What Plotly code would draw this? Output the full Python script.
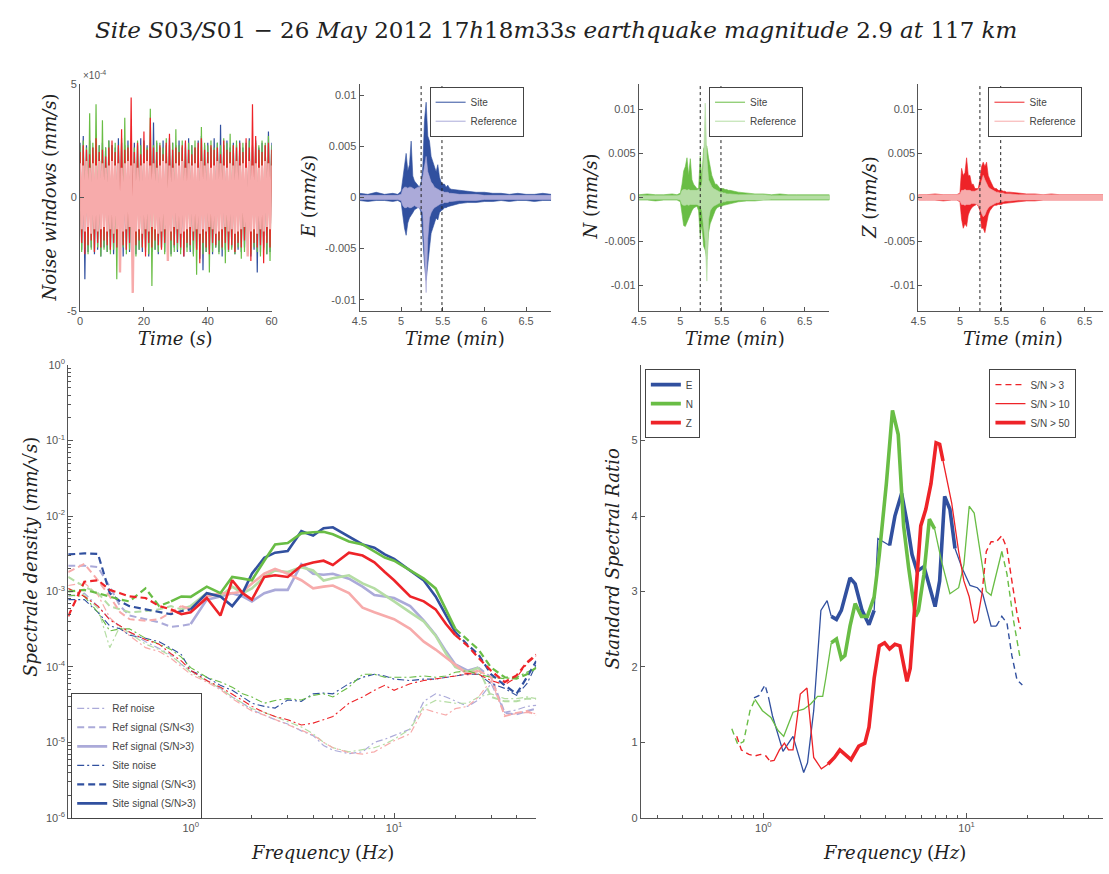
import plotly.graph_objects as go

W, H = 1109, 874
def px(x): return x / W
def py(y): return 1 - y / H

# ============================ DATA ============================
TITLE = ("<i>Site S</i>03<i>/S</i>01 <i>−</i> 26 <i>May</i> 2012 17<i>h</i>18<i>m</i>33<i>s</i> "
         "<i>earthquake magnitude</i> 2.9 <i>at</i> 117 <i>km</i>")

# ---- noise windows: 1-s peak values, units 1e-4 mm/s ----
noise_t = list(range(0, 61))
noise_E_up = [2.4,2.7,2.3,2.5,2.2,2.6,2.3,2.4,2.2,2.5,
              2.3,2.2,2.6,2.4,2.3,2.5,2.2,2.4,2.3,2.6,
              2.5,2.3,2.4,3.3,2.4,2.2,2.5,2.3,2.6,2.4,
              2.3,2.5,2.2,2.4,2.6,2.3,2.2,2.5,2.7,2.3,
              2.4,2.2,2.6,2.4,3.2,2.3,2.5,2.2,2.4,2.3,
              2.5,2.2,2.4,2.6,2.3,2.5,2.2,2.4,2.3,2.9,
              2.4]
noise_E_lo = [-2.3,-3.6,-2.4,-2.2,-2.5,-2.3,-2.6,-2.2,-2.4,-2.3,
              -2.5,-2.2,-2.4,-2.6,-2.3,-2.4,-2.2,-2.5,-2.3,-2.4,
              -2.2,-2.6,-2.4,-2.3,-2.5,-2.2,-2.4,-2.3,-2.5,-2.2,
              -2.4,-2.3,-2.6,-2.2,-2.4,-2.5,-2.3,-2.7,-3.2,-2.4,
              -2.3,-2.5,-2.2,-2.4,-2.6,-2.3,-2.4,-2.2,-2.5,-2.3,
              -2.4,-2.2,-2.5,-2.6,-2.3,-3.3,-2.4,-2.2,-2.5,-2.4,
              -2.3]
noise_N_up = [2.3,2.5,2.2,3.7,2.4,4.1,2.3,3.4,2.2,2.5,
              2.3,2.4,2.2,2.6,3.5,2.3,2.4,2.2,2.5,2.3,
              2.4,2.2,3.9,2.3,2.5,2.4,2.2,2.6,2.3,2.4,
              3.0,2.3,2.5,2.2,2.4,2.3,2.5,2.2,3.1,2.4,
              2.3,2.5,2.2,2.4,2.3,2.6,2.4,2.8,2.3,2.5,
              2.2,2.4,2.3,2.5,2.2,2.4,2.3,2.5,2.4,2.7,
              2.3]
noise_N_lo = [-2.4,-2.2,-2.5,-2.3,-2.4,-2.2,-2.6,-2.3,-2.4,-2.5,
              -2.3,-3.6,-2.4,-2.2,-2.5,-2.3,-2.4,-2.6,-2.3,-2.2,
              -2.4,-2.5,-3.9,-2.3,-2.4,-2.2,-2.5,-2.3,-2.6,-2.4,
              -2.3,-2.5,-2.2,-2.4,-2.3,-2.6,-3.4,-2.3,-2.5,-2.4,
              -3.3,-2.4,-2.2,-2.5,-2.3,-2.9,-2.4,-2.3,-2.5,-2.2,
              -2.7,-2.4,-2.3,-2.5,-2.2,-2.4,-2.6,-2.3,-2.5,-2.8,
              -2.4]
noise_Z_up = [2.0,2.3,2.1,1.9,2.2,2.6,2.0,2.1,1.8,2.2,
              2.5,2.0,2.3,3.0,2.1,2.2,4.4,2.0,2.4,1.9,
              2.9,2.1,3.5,2.2,2.0,2.3,1.9,2.4,2.8,2.1,
              2.2,2.0,2.3,2.5,2.1,1.9,2.2,2.4,2.6,2.1,
              2.0,2.3,2.1,2.2,1.9,2.5,2.1,2.0,2.3,2.2,
              2.4,2.0,2.6,2.2,4.1,2.7,2.1,2.0,2.3,2.4,
              2.1]
noise_Z_lo = [-2.0,-2.5,-2.1,-1.9,-2.4,-2.0,-2.2,-1.9,-2.1,-2.3,
              -2.0,-2.2,-1.9,-2.1,-2.3,-2.0,-2.7,-2.1,-1.9,-2.2,
              -2.6,-2.0,-2.2,-1.9,-2.1,-2.3,-2.0,-2.2,-1.9,-2.1,
              -2.0,-2.2,-2.6,-2.0,-2.1,-1.9,-2.3,-2.9,-2.0,-2.2,
              -2.5,-2.0,-2.1,-1.9,-2.2,-2.0,-2.3,-2.1,-2.4,-2.0,
              -2.2,-1.9,-2.1,-2.8,-2.0,-2.2,-2.1,-2.9,-2.0,-2.2,
              -2.8]
noise_ref_up = [1.5,1.4,1.6,1.3,1.5,1.4,1.6,1.5,1.3,1.4,
                1.6,1.4,1.5,1.3,1.5,1.6,1.4,1.5,1.3,1.4,
                1.5,1.6,1.4,1.5,1.3,1.4,1.6,1.5,1.4,1.3,
                1.5,1.4,1.6,1.3,1.5,1.4,1.5,1.3,1.6,1.4,
                1.5,1.3,1.4,1.6,1.5,1.4,1.3,1.5,1.4,1.6,
                1.4,1.5,1.3,1.6,1.4,1.5,1.3,1.4,1.6,1.5,
                1.4]
noise_ref_lo = [-1.4,-1.5,-1.3,-1.6,-1.4,-1.5,-1.4,-1.3,-1.5,-1.4,
                -1.6,-1.4,-3.3,-1.5,-1.4,-1.3,-4.2,-1.5,-1.4,-1.6,
                -1.4,-1.5,-1.3,-1.4,-1.6,-1.5,-1.4,-2.8,-1.5,-1.3,
                -1.4,-1.6,-1.5,-1.4,-1.3,-1.5,-1.4,-1.6,-1.4,-1.5,
                -1.3,-1.4,-1.6,-1.5,-1.4,-1.3,-1.5,-1.4,-1.6,-1.5,
                -1.4,-1.3,-2.6,-1.5,-1.4,-1.6,-1.4,-1.5,-1.3,-1.4,
                -1.5]

# ---- event records: envelope peaks, units 1e-3 mm/s, time in minutes ----
win_limits = [5.24, 5.49]
seis_t = [4.5,4.6,4.7,4.8,4.9,4.96,5.0,
          5.02,5.04,5.06,5.08,5.10,5.12,5.14,5.16,5.18,5.20,
          5.22,5.24,5.26,5.28,5.30,5.32,5.34,5.36,5.38,5.40,
          5.42,5.44,5.46,5.48,5.50,5.52,5.54,5.56,5.58,5.60,
          5.7,5.8,5.9,6.0,6.1,6.2,6.3,6.4,6.5,6.6,6.7,6.8]
E_site_up = [0.4,0.3,0.5,0.3,0.4,0.3,0.6,
             2.0,3.5,4.3,2.6,3.2,5.5,2.1,1.6,1.4,1.2,
             1.0,1.5,3.0,7.5,9.3,6.0,5.5,4.0,3.5,3.0,
             2.5,3.2,2.0,1.5,1.3,1.3,1.0,1.2,0.9,0.8,
             0.7,0.6,0.5,0.5,0.4,0.4,0.3,0.4,0.3,0.3,0.4,0.3]
E_site_lo = [-0.3,-0.4,-0.3,-0.3,-0.4,-0.3,-0.5,
             -1.5,-3.0,-3.7,-2.5,-2.0,-1.8,-1.5,-1.2,-1.1,-1.0,
             -1.0,-1.5,-4.0,-6.5,-8.1,-6.5,-5.0,-3.5,-3.0,-2.5,
             -2.0,-2.2,-1.5,-1.3,-1.2,-1.0,-1.0,-0.9,-0.8,-0.8,
             -0.6,-0.5,-0.5,-0.4,-0.4,-0.3,-0.4,-0.3,-0.3,-0.4,-0.3,-0.3]
E_ref_up = [0.2,0.2,0.2,0.2,0.2,0.2,0.3,
            0.8,1.0,1.0,0.9,1.0,1.0,0.9,0.8,0.9,1.0,
            1.0,1.2,2.0,3.0,4.0,2.5,2.0,1.5,1.3,1.0,
            0.9,0.8,0.7,0.6,0.6,0.5,0.5,0.5,0.4,0.4,
            0.3,0.3,0.3,0.2,0.2,0.2,0.2,0.2,0.2,0.2,0.2,0.2]
E_ref_lo = [-0.2,-0.2,-0.2,-0.2,-0.2,-0.2,-0.3,
            -0.8,-1.0,-1.0,-0.9,-1.0,-1.0,-0.9,-0.8,-0.9,-1.0,
            -1.0,-1.2,-1.5,-5.0,-9.3,-4.0,-2.0,-1.5,-1.2,-1.0,
            -0.9,-0.8,-0.7,-0.6,-0.6,-0.5,-0.5,-0.5,-0.4,-0.4,
            -0.3,-0.3,-0.3,-0.2,-0.2,-0.2,-0.2,-0.2,-0.2,-0.2,-0.2,-0.2]
N_site_up = [0.3,0.4,0.3,0.3,0.4,0.3,0.5,
             1.5,3.0,3.5,4.5,2.5,4.4,2.0,1.5,1.2,1.0,
             1.0,4.7,2.0,5.5,6.0,5.8,4.5,3.5,2.5,2.0,
             1.5,1.5,1.2,1.0,1.0,1.0,0.9,0.9,0.8,0.8,
             0.6,0.5,0.4,0.4,0.3,0.4,0.3,0.3,0.3,0.3,0.3,0.3]
N_site_lo = [-0.3,-0.3,-0.4,-0.3,-0.3,-0.3,-0.5,
             -1.5,-3.2,-3.3,-3.0,-2.5,-2.0,-1.5,-1.2,-1.1,-1.0,
             -1.5,-4.5,-3.0,-5.5,-6.0,-7.0,-4.0,-3.0,-2.5,-2.0,
             -1.5,-1.2,-1.1,-1.0,-1.0,-0.9,-0.8,-0.8,-0.7,-0.7,
             -0.5,-0.4,-0.4,-0.3,-0.3,-0.3,-0.3,-0.3,-0.3,-0.3,-0.3,-0.3]
N_ref_up = [0.2,0.2,0.2,0.2,0.2,0.2,0.3,
            0.8,0.9,0.9,0.8,0.9,0.8,0.8,0.8,0.8,0.8,
            0.9,1.0,1.5,4.0,10.7,4.5,2.0,1.5,1.2,1.0,
            0.9,0.8,0.7,0.6,0.6,0.5,0.5,0.4,0.4,0.4,
            0.3,0.3,0.3,0.3,0.2,0.2,0.2,0.2,0.2,0.2,0.2,0.2]
N_ref_lo = [-0.2,-0.2,-0.2,-0.2,-0.2,-0.2,-0.3,
            -0.8,-0.9,-0.9,-0.8,-0.9,-0.8,-0.8,-0.8,-0.8,-0.8,
            -0.9,-1.0,-1.5,-3.5,-5.0,-9.5,-2.5,-1.5,-1.2,-1.0,
            -0.9,-0.8,-0.7,-0.6,-0.6,-0.5,-0.5,-0.4,-0.4,-0.4,
            -0.3,-0.3,-0.3,-0.3,-0.2,-0.2,-0.2,-0.2,-0.2,-0.2,-0.2,-0.2]
Z_site_up = [0.3,0.3,0.4,0.3,0.3,0.3,0.5,
             3.3,2.5,2.8,4.5,2.5,2.5,1.5,1.5,1.0,1.0,
             1.0,2.0,3.5,4.0,3.5,4.0,2.5,2.0,1.5,1.2,
             1.0,1.0,0.8,0.8,0.8,0.7,0.7,0.6,0.6,0.6,
             0.5,0.4,0.4,0.3,0.4,0.3,0.3,0.3,0.3,0.3,0.3,0.3]
Z_site_lo = [-0.3,-0.3,-0.3,-0.4,-0.3,-0.3,-0.5,
             -2.5,-3.5,-3.0,-3.3,-2.0,-1.5,-1.2,-1.0,-0.9,-0.8,
             -1.0,-1.5,-3.5,-3.5,-4.0,-3.0,-2.0,-1.5,-1.2,-1.0,
             -0.9,-0.9,-0.8,-0.8,-0.8,-0.7,-0.7,-0.6,-0.6,-0.6,
             -0.5,-0.4,-0.4,-0.3,-0.3,-0.3,-0.3,-0.3,-0.3,-0.3,-0.3,-0.3]
Z_ref_up = [0.3,0.3,0.3,0.3,0.3,0.3,0.4,
            0.8,0.8,0.9,0.8,0.8,0.8,0.7,0.7,0.7,0.8,
            0.9,1.2,1.8,2.5,2.0,1.5,1.2,1.0,0.9,0.8,
            0.7,0.6,0.6,0.5,0.5,0.5,0.4,0.4,0.4,0.4,
            0.3,0.3,0.3,0.3,0.3,0.3,0.3,0.3,0.3,0.3,0.3,0.3]
Z_ref_lo = [-0.3,-0.3,-0.3,-0.3,-0.3,-0.3,-0.4,
            -0.8,-0.8,-0.9,-0.8,-0.8,-0.8,-0.7,-0.7,-0.7,-0.8,
            -0.9,-1.2,-1.8,-2.2,-2.0,-1.5,-1.2,-1.0,-0.9,-0.8,
            -0.7,-0.6,-0.6,-0.5,-0.5,-0.5,-0.4,-0.4,-0.4,-0.4,
            -0.3,-0.3,-0.3,-0.3,-0.3,-0.3,-0.3,-0.3,-0.3,-0.3,-0.3,-0.3]

# ---- spectral densities (mm/sqrt(s)) ----
freq = [0.25,0.3,0.35,0.4,0.45,0.5,0.6,0.7,0.8,0.9,
        1.0,1.2,1.4,1.6,1.8,2.0,2.3,2.6,3.0,3.5,
        4.0,4.5,5.0,6,7,8,9,10,12,14,
        16,18,20,23,26,30,35,40,45,50]
site_sig_E = [3.1e-3,3.2e-3,3.15e-3,9.5e-4,7.4e-4,6.4e-4,5.8e-4,5.3e-4,5.0e-4,5.5e-4,
              5.8e-4,9.5e-4,8.6e-4,6.4e-4,9.5e-4,1.72e-3,2.8e-3,3.27e-3,3.44e-3,6.3e-3,
              5.5e-3,6.9e-3,7.1e-3,5.4e-3,4.2e-3,3.8e-3,3.1e-3,2.7e-3,1.9e-3,1.4e-3,
              8.6e-4,4.8e-4,2.9e-4,1.96e-4,1.46e-4,8.0e-5,5.7e-5,4.4e-5,7.3e-5,1.2e-4]
site_sig_N = [1.0e-3,1.05e-3,9.5e-4,8.6e-4,7.8e-4,7.4e-4,1.1e-3,6.4e-4,7.4e-4,8.6e-4,
              8.5e-4,1.16e-3,9.5e-4,1.56e-3,1.48e-3,1.41e-3,2.56e-3,4.19e-3,4.4e-3,5.9e-3,
              6.1e-3,6.2e-3,5.75e-3,4.6e-3,4.2e-3,3.44e-3,2.82e-3,2.56e-3,1.9e-3,1.48e-3,
              1.1e-3,5.8e-4,3.2e-4,2.3e-4,1.7e-4,9.8e-5,7.3e-5,7.0e-5,8.0e-5,9.8e-5]
site_sig_Z = [4.7e-4,1.35e-3,1.41e-3,1.05e-3,9.5e-4,8.6e-4,8.2e-4,6.4e-4,5.8e-4,5.0e-4,
              5.3e-4,8.2e-4,4.8e-4,1.41e-3,9.5e-4,7.8e-4,1.56e-3,1.64e-3,1.56e-3,2.2e-3,
              2.43e-3,2.56e-3,2.25e-3,3.27e-3,3.0e-3,2.43e-3,1.81e-3,1.41e-3,8.6e-4,7.4e-4,
              5.8e-4,3.7e-4,2.64e-4,1.9e-4,1.32e-4,8.9e-5,6.3e-5,7.7e-5,1.15e-4,1.46e-4]
ref_sig_E = [2.2e-3,2.2e-3,2.1e-3,1.16e-3,6.4e-4,4.8e-4,4.3e-4,3.9e-4,3.4e-4,3.5e-4,
             3.7e-4,7.8e-4,8.6e-4,9.5e-4,8.6e-4,7.4e-4,9.5e-4,1.05e-3,1.05e-3,2.3e-3,
             1.72e-3,1.67e-3,1.72e-3,1.48e-3,1.16e-3,9.0e-4,8.6e-4,8.2e-4,6.4e-4,4.1e-4,
             2.64e-4,1.61e-4,1.08e-4,8.9e-5,9.8e-5,7.3e-5,2.46e-5,2.35e-5,2.6e-5,2.8e-5]
ref_sig_N = [1.56e-3,1.16e-3,9.5e-4,6.4e-4,5.8e-4,5.3e-4,5.5e-4,5.8e-4,6.4e-4,5.8e-4,
             6.4e-4,9.5e-4,8.6e-4,1.16e-3,9.5e-4,1.1e-3,1.56e-3,1.9e-3,1.81e-3,2.1e-3,
             1.9e-3,1.4e-3,1.5e-3,1.64e-3,1.28e-3,1.1e-3,9.0e-4,7.4e-4,5.3e-4,4.0e-4,
             2.6e-4,1.5e-4,1.0e-4,8.5e-5,9.8e-5,4.0e-5,3.5e-5,3.5e-5,3.8e-5,3.8e-5]
ref_sig_Z = [1.81e-3,2.32e-3,1.41e-3,8.6e-4,5.3e-4,4.3e-4,4.1e-4,4.3e-4,5.3e-4,6.4e-4,
             5.8e-4,8.6e-4,9.5e-4,9.5e-4,1.0e-3,1.28e-3,1.72e-3,2.0e-3,1.72e-3,1.41e-3,
             1.1e-3,1.16e-3,1.2e-3,9.5e-4,6.1e-4,5.3e-4,4.8e-4,4.3e-4,3.2e-4,2.16e-4,
             1.7e-4,1.32e-4,1.08e-4,8.0e-5,8.9e-5,7.3e-5,2.23e-5,2.46e-5,2.6e-5,2.3e-5]
site_noise_E = [7.8e-4,7.8e-4,5.3e-4,3.5e-4,3.2e-4,2.64e-4,2.4e-4,2.16e-4,1.77e-4,1.46e-4,
                8.9e-5,7.3e-5,5.7e-5,4.9e-5,4.0e-5,3.3e-5,3.0e-5,2.85e-5,3.65e-5,3.5e-5,
                4.4e-5,4.5e-5,4.4e-5,6.0e-5,7.3e-5,8.0e-5,7.6e-5,6.9e-5,6.6e-5,6.9e-5,
                6.9e-5,7.3e-5,7.6e-5,8.0e-5,8.0e-5,6.0e-5,5.2e-5,4.2e-5,6.0e-5,1.08e-4]
site_noise_N = [9.0e-4,8.6e-4,5.3e-4,3.0e-4,3.2e-4,3.2e-4,2.4e-4,2.0e-4,1.7e-4,1.35e-4,
                9.8e-5,7.3e-5,6.3e-5,5.4e-5,4.4e-5,4.0e-5,3.3e-5,3.6e-5,3.8e-5,3.65e-5,
                4.2e-5,4.4e-5,4.0e-5,5.4e-5,8.0e-5,8.0e-5,7.3e-5,7.3e-5,7.3e-5,7.6e-5,
                7.3e-5,7.6e-5,8.5e-5,8.9e-5,8.0e-5,7.3e-5,7.0e-5,7.3e-5,8.5e-5,9.8e-5]
site_noise_Z = [1.1e-3,8.6e-4,6.4e-4,4.2e-4,3.5e-4,2.9e-4,2.3e-4,2.0e-4,1.5e-4,1.2e-4,
                9.0e-5,6.6e-5,5.4e-5,4.4e-5,3.6e-5,3.0e-5,2.5e-5,2.2e-5,2.0e-5,1.7e-5,
                1.8e-5,2.0e-5,2.2e-5,3.3e-5,4.0e-5,4.9e-5,5.7e-5,4.9e-5,6.0e-5,6.6e-5,
                6.9e-5,7.3e-5,7.6e-5,8.2e-5,8.0e-5,6.6e-5,5.8e-5,7.3e-5,1.1e-4,1.4e-4]
ref_noise_E = [8.6e-4,9.5e-4,6.4e-4,4.3e-4,3.5e-4,2.9e-4,2.16e-4,1.77e-4,1.46e-4,1.08e-4,
               8.9e-5,6.6e-5,5.2e-5,4.0e-5,3.3e-5,2.7e-5,2.3e-5,2.0e-5,1.75e-5,1.42e-5,
               1.23e-5,9.1e-6,7.9e-6,7.1e-6,7.5e-6,1.0e-5,1.1e-5,1.23e-5,1.5e-5,3.5e-5,
               4.4e-5,4.0e-5,3.5e-5,3.0e-5,3.65e-5,6.0e-5,2.5e-5,2.7e-5,3.0e-5,3.1e-5]
ref_noise_N = [1.1e-3,9.0e-4,6.0e-4,1.8e-4,3.5e-4,2.8e-4,2.0e-4,1.7e-4,1.4e-4,1.1e-4,
               8.5e-5,6.6e-5,5.2e-5,4.0e-5,3.3e-5,2.8e-5,2.5e-5,2.2e-5,1.9e-5,1.6e-5,
               1.3e-5,1.0e-5,8.5e-6,7.5e-6,8.0e-6,8.5e-6,9.5e-6,1.1e-5,1.5e-5,3.0e-5,
               3.6e-5,3.4e-5,3.3e-5,3.3e-5,4.0e-5,4.4e-5,3.8e-5,3.8e-5,4.0e-5,3.8e-5]
ref_noise_Z = [1.2e-3,1.3e-3,9.0e-4,4.5e-4,3.3e-4,2.6e-4,1.8e-4,1.6e-4,1.3e-4,1.0e-4,
               8.0e-5,6.3e-5,5.0e-5,3.8e-5,3.1e-5,2.6e-5,2.3e-5,2.0e-5,1.7e-5,1.45e-5,
               1.25e-5,1.0e-5,8.5e-6,7.3e-6,7.0e-6,7.5e-6,9.0e-6,1.05e-5,1.3e-5,2.8e-5,
               2.5e-5,2.3e-5,2.8e-5,3.0e-5,4.0e-5,6.6e-5,2.3e-5,2.4e-5,2.5e-5,2.4e-5]
# frequency band (Hz) where S/N > 3
site_snr3_band = {"E": (1.0, 20), "N": (0.8, 20), "Z": (0.8, 20)}
ref_snr3_band = {"E": (1.0, 26), "N": (0.9, 26), "Z": (0.9, 26)}

# ---- standard spectral ratios ----
ssr_E_f = [0.90,0.95,1.02,1.06,1.11,1.25,1.4,1.58,1.65,1.77,1.92,2.06,2.16,2.29,2.42,2.67,2.83,3.06,3.31,3.51,
           3.66,3.95,4.18,4.44,4.79,5.09,5.39,5.71,6.17,6.68,7.0,7.37,7.8,8.28,8.77,9.5,10.4,11.3,12.0,13.2,
           14.0,14.9,15.8,16.7,17.7,18.8]
ssr_E_v = [1.59,1.62,1.76,1.6,1.35,0.88,1.08,0.6,0.73,1.42,2.75,2.88,2.67,2.63,2.75,3.18,3.1,2.75,2.56,2.75,
           3.7,3.65,3.61,4.0,4.3,3.92,3.49,3.27,3.33,3.01,2.8,3.14,4.26,4.09,3.57,3.31,3.08,3.05,2.97,2.54,
           2.54,2.67,2.58,2.15,1.83,1.76]
ssr_E_snr = [3,3,3,3,10,10,10,10,10,10,10,10,10,50,50,50,50,50,50,50,
             10,10,10,50,50,50,50,50,50,50,50,50,50,50,50,10,10,10,10,10,
             10,3,3,3,3,3]
ssr_N_f = [0.70,0.75,0.80,0.86,0.91,0.99,1.09,1.18,1.26,1.4,1.58,1.71,1.85,1.96,2.03,2.16,2.29,2.42,2.52,2.67,
           2.83,3.04,3.25,3.51,3.72,4.03,4.32,4.61,4.9,5.19,5.61,5.8,6.17,6.56,6.96,7.53,8.28,9.14,9.7,10.3,
           10.9,11.8,12.5,13.2,14.0,14.9,15.8,17.0,18.3]
ssr_N_v = [1.18,0.97,1.01,1.42,1.57,1.42,1.33,1.16,1.08,1.40,1.44,1.51,1.61,1.61,1.85,2.32,2.37,2.11,2.15,2.54,
           2.84,2.67,2.67,2.93,3.49,4.43,5.40,5.08,3.87,3.31,2.67,2.75,3.23,3.96,3.83,3.40,2.97,3.05,3.36,4.13,
           4.04,3.44,3.0,2.95,3.23,3.53,3.23,2.62,2.13]
ssr_N_snr = [3,3,3,3,3,10,10,10,10,10,10,10,10,10,10,10,50,50,50,50,
             50,50,50,50,50,50,50,50,50,50,50,50,50,50,50,10,10,10,10,10,
             10,10,10,10,10,10,3,3,3]
ssr_Z_f = [0.74,0.78,0.85,0.91,0.97,1.03,1.08,1.13,1.2,1.27,1.33,1.4,1.52,1.64,1.77,1.93,2.08,2.24,2.38,2.52,
           2.7,2.95,3.16,3.31,3.51,3.72,3.95,4.18,4.44,4.7,5.09,5.28,5.61,5.95,6.3,6.68,7.08,7.37,7.66,7.97,
           8.45,9.14,9.7,10.3,10.9,11.3,11.9,12.5,13.2,14.0,14.9,15.8,16.7,17.7,18.4]
ssr_Z_v = [1.08,0.90,0.84,0.82,0.84,0.82,0.75,0.76,0.90,0.99,0.90,0.90,1.64,1.72,0.8,0.65,0.71,0.80,0.90,0.84,
           0.77,0.95,0.99,1.2,1.85,2.28,2.32,2.24,2.30,2.28,1.81,1.98,2.93,3.87,4.09,4.43,4.97,4.95,4.73,4.52,
           4.17,3.53,3.14,2.93,2.58,2.62,2.97,3.53,3.66,3.66,3.74,3.57,3.14,2.71,2.5]
ssr_Z_snr = [3,3,3,3,3,3,3,10,10,10,10,10,10,10,10,10,10,50,50,50,
             50,50,50,50,50,50,50,50,50,50,50,50,50,50,50,50,50,50,50,10,
             10,10,10,10,10,10,10,3,3,3,3,3,3,3,3]

# ============================ STYLE ============================
DARK = {"E": "#31509f", "N": "#69bd45", "Z": "#ee2328"}
LIGHT = {"E": "#abaad9", "N": "#b5dda4", "Z": "#f7abab"}
SERIF = "DejaVu Serif"
SANS = "Liberation Sans"
AXC = "#555555"
TICKFONT = dict(family=SANS, size=11, color="#555555")

fig = go.Figure()

def axis(domain, anchor, **kw):
    d = dict(domain=domain, anchor=anchor, showline=True, linecolor=AXC, linewidth=1,
             ticks="inside", ticklen=4, tickcolor=AXC, tickwidth=1, tickfont=TICKFONT,
             showgrid=False, zeroline=False, mirror=False, fixedrange=True)
    d.update(kw)
    return d

# ---------------- noise windows panel ----------------
def zigzag(t, up, lo, k):
    xs, ys = [], []
    for ti, u, l in zip(t, up, lo):
        xs += [ti, ti + 0.5]
        ys += [u * k, l * k]
    return xs, ys

for comp, up, lo in [("E", noise_E_up, noise_E_lo), ("N", noise_N_up, noise_N_lo),
                     ("Z", noise_Z_up, noise_Z_lo)]:
    x, y = zigzag(noise_t, up, lo, 1e-4)
    fig.add_trace(go.Scatter(x=x, y=y, mode="lines", line=dict(color=DARK[comp], width=1.2),
                             showlegend=False, xaxis="x", yaxis="y", hoverinfo="skip"))
x, y = zigzag(noise_t, noise_ref_up, noise_ref_lo, 1e-4)
fig.add_trace(go.Scatter(x=x, y=y, mode="lines", line=dict(color=LIGHT["Z"], width=2.4),
                         showlegend=False, xaxis="x", yaxis="y", hoverinfo="skip"))

# ---------------- event records ----------------
def envelope(t, up, lo, k):
    return list(t) + list(t)[::-1], [v * k for v in up] + [v * k for v in lo][::-1]

seis = {"E": (E_site_up, E_site_lo, E_ref_up, E_ref_lo),
        "N": (N_site_up, N_site_lo, N_ref_up, N_ref_lo),
        "Z": (Z_site_up, Z_site_lo, Z_ref_up, Z_ref_lo)}
for i, comp in enumerate(["E", "N", "Z"]):
    xa, ya = f"x{i+2}", f"y{i+2}"
    su, sl, ru, rl = seis[comp]
    x, y = envelope(seis_t, su, sl, 1e-3)
    fig.add_trace(go.Scatter(x=x, y=y, mode="lines", fill="toself", fillcolor=DARK[comp],
                             line=dict(color=DARK[comp], width=0.6), showlegend=False,
                             xaxis=xa, yaxis=ya, hoverinfo="skip"))
    x, y = envelope(seis_t, ru, rl, 1e-3)
    fig.add_trace(go.Scatter(x=x, y=y, mode="lines", fill="toself", fillcolor=LIGHT[comp],
                             line=dict(color=LIGHT[comp], width=0.6), showlegend=False,
                             xaxis=xa, yaxis=ya, hoverinfo="skip"))
    lg = ["legend", "legend2", "legend3"][i]
    fig.add_trace(go.Scatter(x=[None], y=[None], mode="lines", line=dict(color=DARK[comp], width=1),
                             name="Site", legend=lg, xaxis=xa, yaxis=ya))
    fig.add_trace(go.Scatter(x=[None], y=[None], mode="lines", line=dict(color=LIGHT[comp], width=1),
                             name="Reference", legend=lg, xaxis=xa, yaxis=ya))
    for w in win_limits:
        fig.add_shape(type="line", xref=xa, yref=f"{ya} domain", x0=w, x1=w, y0=0, y1=1,
                      line=dict(color="#222222", width=1, dash="dot"))

# ---------------- spectral densities ----------------
DASH = "7px,4px"
DASHDOT = "7px,3px,2px,3px"

def split_band(f, v, band):
    lo_f, hi_f = band
    xd, yd, xs, ys = [], [], [], []
    for fi, vi in zip(f, v):
        if fi <= lo_f:
            xd.append(fi); yd.append(vi)
    xd.append(None); yd.append(None)
    for fi, vi in zip(f, v):
        if fi >= hi_f:
            xd.append(fi); yd.append(vi)
        if lo_f <= fi <= hi_f:
            xs.append(fi); ys.append(vi)
    return xd, yd, xs, ys

ref_noise = {"E": ref_noise_E, "N": ref_noise_N, "Z": ref_noise_Z}
ref_sig = {"E": ref_sig_E, "N": ref_sig_N, "Z": ref_sig_Z}
site_noise = {"E": site_noise_E, "N": site_noise_N, "Z": site_noise_Z}
site_sig = {"E": site_sig_E, "N": site_sig_N, "Z": site_sig_Z}

for comp in ["E", "N", "Z"]:
    fig.add_trace(go.Scatter(x=freq, y=ref_noise[comp], mode="lines",
                             line=dict(color=LIGHT[comp], width=1.2, dash=DASHDOT),
                             showlegend=False, xaxis="x5", yaxis="y5", hoverinfo="skip"))
for comp in ["E", "N", "Z"]:
    xd, yd, xs, ys = split_band(freq, ref_sig[comp], ref_snr3_band[comp])
    fig.add_trace(go.Scatter(x=xd, y=yd, mode="lines", line=dict(color=LIGHT[comp], width=2, dash=DASH),
                             showlegend=False, xaxis="x5", yaxis="y5", hoverinfo="skip"))
    fig.add_trace(go.Scatter(x=xs, y=ys, mode="lines", line=dict(color=LIGHT[comp], width=2.6),
                             showlegend=False, xaxis="x5", yaxis="y5", hoverinfo="skip"))
for comp in ["E", "N", "Z"]:
    fig.add_trace(go.Scatter(x=freq, y=site_noise[comp], mode="lines",
                             line=dict(color=DARK[comp], width=1.1, dash=DASHDOT),
                             showlegend=False, xaxis="x5", yaxis="y5", hoverinfo="skip"))
for comp in ["E", "N", "Z"]:
    xd, yd, xs, ys = split_band(freq, site_sig[comp], site_snr3_band[comp])
    fig.add_trace(go.Scatter(x=xd, y=yd, mode="lines", line=dict(color=DARK[comp], width=2.2, dash=DASH),
                             showlegend=False, xaxis="x5", yaxis="y5", hoverinfo="skip"))
    fig.add_trace(go.Scatter(x=xs, y=ys, mode="lines", line=dict(color=DARK[comp], width=2.6),
                             showlegend=False, xaxis="x5", yaxis="y5", hoverinfo="skip"))

legend4_items = [("Ref noise", LIGHT["E"], 1.2, DASHDOT), ("Ref signal (S/N<3)", LIGHT["E"], 2, DASH),
                 ("Ref signal (S/N>3)", LIGHT["E"], 2.6, "solid"), ("Site noise", DARK["E"], 1.1, DASHDOT),
                 ("Site signal (S/N<3)", DARK["E"], 2.2, DASH), ("Site signal (S/N>3)", DARK["E"], 2.6, "solid")]
for name, col, wd, ds in legend4_items:
    fig.add_trace(go.Scatter(x=[None], y=[None], mode="lines", line=dict(color=col, width=wd, dash=ds),
                             name=name, legend="legend4", xaxis="x5", yaxis="y5"))

# ---------------- SSR ----------------
SNR_STYLE = {3: dict(width=1.4, dash="6px,4px"), 10: dict(width=1.3, dash="solid"),
             50: dict(width=3.6, dash="solid")}

def runs(f, v, s):
    out = []
    cur = s[0]; xs = [f[0]]; ys = [v[0]]
    for i in range(1, len(f)):
        if s[i] == cur:
            xs.append(f[i]); ys.append(v[i])
        else:
            out.append((cur, xs, ys))
            cur = s[i]; xs = [f[i-1], f[i]]; ys = [v[i-1], v[i]]
    out.append((cur, xs, ys))
    return out

ssr = {"E": (ssr_E_f, ssr_E_v, ssr_E_snr), "N": (ssr_N_f, ssr_N_v, ssr_N_snr),
       "Z": (ssr_Z_f, ssr_Z_v, ssr_Z_snr)}
for comp in ["E", "N", "Z"]:
    for cls, xs, ys in runs(*ssr[comp]):
        st = SNR_STYLE[cls]
        fig.add_trace(go.Scatter(x=xs, y=ys, mode="lines",
                                 line=dict(color=DARK[comp], width=st["width"], dash=st["dash"]),
                                 showlegend=False, xaxis="x6", yaxis="y6", hoverinfo="skip"))
for comp in ["E", "N", "Z"]:
    fig.add_trace(go.Scatter(x=[None], y=[None], mode="lines", line=dict(color=DARK[comp], width=3.6),
                             name=comp, legend="legend5", xaxis="x6", yaxis="y6"))
for cls, label in [(3, "S/N > 3"), (10, "S/N > 10"), (50, "S/N > 50")]:
    st = SNR_STYLE[cls]
    fig.add_trace(go.Scatter(x=[None], y=[None], mode="lines",
                             line=dict(color=DARK["Z"], width=st["width"], dash=st["dash"]),
                             name=label, legend="legend6", xaxis="x6", yaxis="y6"))

# ============================ LAYOUT ============================
top_y = [py(308), py(77)]
bot_y = [py(823), py(363)]
sig_ticks = [-0.01, -0.005, 0, 0.005, 0.01]
sig_text = ["-0.01", "-0.005", "0", "0.005", "0.01"]
t_ticks = [4.5, 5, 5.5, 6, 6.5]
t_text = ["4.5", "5", "5.5", "6", "6.5"]
log_minor_f = [k * 10 ** e for e in (-1, 0, 1) for k in range(2, 10)]
log_minor_v = [k * 10 ** e for e in range(-6, 0) for k in range(2, 10)]

legend_common = dict(bgcolor="white", bordercolor="#444444", borderwidth=1,
                     font=dict(family=SANS, size=10, color="#444444"),
                     xanchor="left", yanchor="top", tracegroupgap=0, itemclick=False)

fig.update_layout(
    width=W, height=H, margin=dict(l=0, r=0, t=0, b=0),
    paper_bgcolor="white", plot_bgcolor="white",
    xaxis=axis([px(73), px(267)], "y", range=[0, 60], tickvals=[0, 20, 40, 60]),
    yaxis=axis(top_y, "x", range=[-5e-4, 5e-4], tickvals=[-5e-4, 0, 5e-4], ticktext=["-5", "0", "5"]),
    xaxis2=axis([px(356), px(550)], "y2", range=[4.5, 6.8], tickvals=t_ticks, ticktext=t_text),
    yaxis2=axis(top_y, "x2", range=[-0.0111, 0.0111], tickvals=sig_ticks, ticktext=sig_text),
    xaxis3=axis([px(639), px(832)], "y3", range=[4.5, 6.8], tickvals=t_ticks, ticktext=t_text),
    yaxis3=axis(top_y, "x3", range=[-0.0129, 0.0129], tickvals=sig_ticks, ticktext=sig_text),
    xaxis4=axis([px(922), 1.0], "y4", range=[4.5, 6.72], tickvals=t_ticks, ticktext=t_text),
    yaxis4=axis(top_y, "x4", range=[-0.0129, 0.0129], tickvals=sig_ticks, ticktext=sig_text),
    xaxis5=axis([px(61), px(535)], "y5", type="log", range=[-0.60206, 1.69897], tickvals=[1, 10],
                ticktext=["10<sup>0</sup>", "10<sup>1</sup>"], ticklen=5,
                minor=dict(ticks="inside", ticklen=3, tickcolor=AXC, tickvals=log_minor_f)),
    yaxis5=axis(bot_y, "x5", type="log", range=[-6, 0],
                tickvals=[1e-6, 1e-5, 1e-4, 1e-3, 1e-2, 1e-1, 1],
                ticktext=["10<sup>-6</sup>", "10<sup>-5</sup>", "10<sup>-4</sup>", "10<sup>-3</sup>",
                          "10<sup>-2</sup>", "10<sup>-1</sup>", "10<sup>0</sup>"], ticklen=5,
                minor=dict(ticks="inside", ticklen=3, tickcolor=AXC, tickvals=log_minor_v)),
    xaxis6=axis([px(641), 1.0], "y6", type="log", range=[-0.60206, 1.671], tickvals=[1, 10],
                ticktext=["10<sup>0</sup>", "10<sup>1</sup>"], ticklen=5,
                minor=dict(ticks="inside", ticklen=3, tickcolor=AXC, tickvals=log_minor_f)),
    yaxis6=axis(bot_y, "x6", range=[0, 6], tickvals=[0, 1, 2, 3, 4, 5]),
    legend=dict(x=px(427), y=py(80), **legend_common),
    legend2=dict(x=px(710), y=py(80), **legend_common),
    legend3=dict(x=px(993), y=py(80), **legend_common),
    legend4=dict(x=px(64), y=py(696), **legend_common),
    legend5=dict(x=px(645), y=py(367), **legend_common),
    legend6=dict(x=px(994), y=py(367), **legend_common),
)

def label(text, x, y, size=18, angle=0):
    fig.add_annotation(text=text, x=px(x), y=py(y), xref="paper", yref="paper", showarrow=False,
                       textangle=angle, xanchor="center", yanchor="middle",
                       font=dict(family=SERIF, size=size, color="#222222"))

label(TITLE, 555, 22, size=23)
label("<i>Noise windows</i> (<i>mm/s</i>)", 42, 192, angle=-90)
label("<i>Time</i> (<i>s</i>)", 170, 336)
label("<i>E</i> (<i>mm/s</i>)", 305, 192, angle=-90)
label("<i>Time</i> (<i>min</i>)", 453, 336)
label("<i>N</i> (<i>mm/s</i>)", 590, 192, angle=-90)
label("<i>Time</i> (<i>min</i>)", 736, 336)
label("<i>Z</i> (<i>mm/s</i>)", 873, 192, angle=-90)
label("<i>Time</i> (<i>min</i>)", 1018, 336)
label("<i>Spectrale density</i> (<i>mm/</i>√<i>s</i>)", 22, 558, angle=-90)
label("<i>Frequency</i> (<i>Hz</i>)", 319, 858)
label("<i>Standard Spectral Ratio</i>", 612, 560, angle=-90)
label("<i>Frequency</i> (<i>Hz</i>)", 898, 858)
fig.add_annotation(text="×10<sup>-4</sup>", x=px(74), y=py(68), xref="paper", yref="paper",
                   showarrow=False, xanchor="left", yanchor="middle",
                   font=dict(family=SANS, size=10, color="#555555"))

fig.write_html("out.html")
